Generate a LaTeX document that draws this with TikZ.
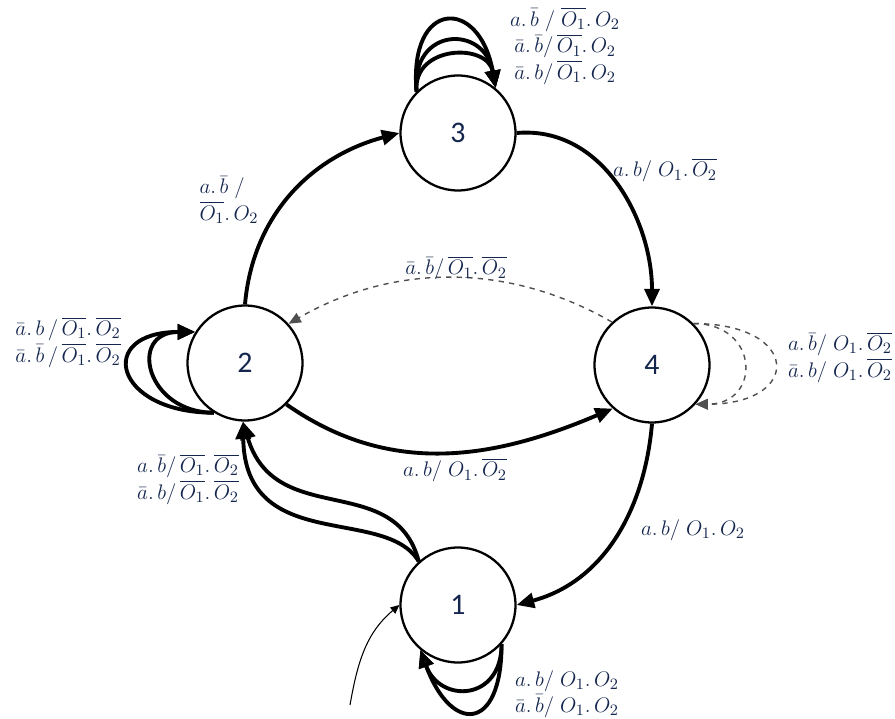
\documentclass[tikz,border=0pt]{standalone}
\usepackage{amsmath,amssymb}
\usepackage{fontspec}
\usepackage{xcolor}
\usetikzlibrary{arrows.meta, positioning}
\newfontfamily\statefont{Carlito}
\definecolor{labelblue}{RGB}{20,38,78}
\definecolor{dashgray}{RGB}{80,80,80}

\begin{document}
\begin{tikzpicture}[
  x=0.02cm, y=0.02cm,
  state/.style={circle, draw, line width=1.3pt,
    minimum size=2.3cm, inner sep=0pt,
    font=\statefont\fontsize{17}{20}\selectfont, text=labelblue},
  trans/.style={line width=2.2pt, -{Triangle[length=10pt, width=8.5pt]}},
  dtrans/.style={dashed, line width=0.8pt, draw=dashgray,
    -{Triangle[length=7pt, width=6pt]}},
  init/.style={line width=0.6pt, -{Triangle[length=5pt, width=4.5pt]}},
  lbl/.style={font=\fontsize{13}{14}\selectfont, text=labelblue,
    inner sep=1pt, align=center}
]
\useasboundingbox (0,0) rectangle (895,-719);

% States
\node[state] (S3) at (458,-133) {3};
\node[state] (S2) at (245,-363) {2};
\node[state] (S4) at (652,-365) {4};
\node[state] (S1) at (458,-605) {1};
\coordinate (init) at (350,-705);

% Transitions between states
\draw[trans] (S2.north) to[out=85, in=195] (S3.west);
\draw[trans] (S3.east) to[out=5, in=90] (S4.north);
\draw[dtrans] (S4.133) to[out=150, in=30, looseness=0.95] (S2.42);
\draw[trans] (S2.-45) to[out=-35, in=203] (S4.-132);
\draw[trans] (S4.south) to[out=-95, in=15] (S1.east);
\draw[trans] (S1.132) .. controls (395,-470) and (275,-530) .. (S2.-92);
\draw[trans] (S1.132) .. controls (385,-505) and (245,-555) .. (S2.-92);
\draw[init] (init) to[out=80, in=220] (S1.west);

% Self-loops
\draw[trans] (S3.135) to[out=95, in=100, looseness=1.5] (S3.50);
\draw[trans] (S3.135) to[out=95, in=100, looseness=2.1] (S3.50);
\draw[trans] (S3.135) to[out=95, in=100, looseness=3.0] (S3.50);
\draw[trans] (S2.238) to[out=180, in=180, looseness=2.1] (S2.148);
\draw[trans] (S2.238) to[out=180, in=180, looseness=3.1] (S2.148);
\draw[dtrans] (S4.45) to[out=0, in=0, looseness=2.1] (S4.-42);
\draw[dtrans] (S4.45) to[out=0, in=0, looseness=3.4] (S4.-42);
\draw[trans] (S1.-42) to[out=-90, in=-70, looseness=1.8] (S1.-130);
\draw[trans] (S1.-42) to[out=-90, in=-70, looseness=2.8] (S1.-130);

% Labels
\node[lbl] (L33) at (565,-46)
  {$a.\,\bar{b}\;/\;\overline{O_1}.\,O_2$\\[1pt]
   $\bar{a}.\,\bar{b}/\,\overline{O_1}.\,O_2$\\[1pt]
   $\bar{a}.\,b/\,\overline{O_1}.\,O_2$};
\node[lbl, align=left] (L23) at (229,-200)
  {$a.\,\bar{b}\;/$\\[1pt] $\overline{O_1}.\,O_2$};
\node[lbl] (L34) at (665,-170) {$a.\,b/\;O_1.\,\overline{O_2}$};
\node[lbl] (L42) at (456,-268) {$\bar{a}.\,\bar{b}/\,\overline{O_1}.\,\overline{O_2}$};
\node[lbl] (L22) at (68,-342)
  {$\bar{a}.\,b\,/\,\overline{O_1}.\,\overline{O_2}$\\[1pt]
   $\bar{a}.\,\bar{b}\,/\,\overline{O_1}.\,\overline{O_2}$};
\node[lbl] (L44) at (840,-357)
  {$a.\,\bar{b}/\;O_1.\,\overline{O_2}$\\[1pt]
   $\bar{a}.\,b/\;O_1.\,\overline{O_2}$};
\node[lbl] (L24) at (455,-470) {$a.\,b/\;O_1.\,\overline{O_2}$};
\node[lbl] (L12) at (188,-479)
  {$a.\,\bar{b}/\,\overline{O_1}.\,\overline{O_2}$\\[1pt]
   $\bar{a}.\,b/\,\overline{O_1}.\,\overline{O_2}$};
\node[lbl] (L41) at (693,-530) {$a.\,b/\;O_1.\,O_2$};
\node[lbl] (L11) at (567,-694)
  {$a.\,b/\;O_1.\,O_2$\\[1pt]
   $\bar{a}.\,\bar{b}/\;O_1.\,O_2$};
\end{tikzpicture}
\end{document}
